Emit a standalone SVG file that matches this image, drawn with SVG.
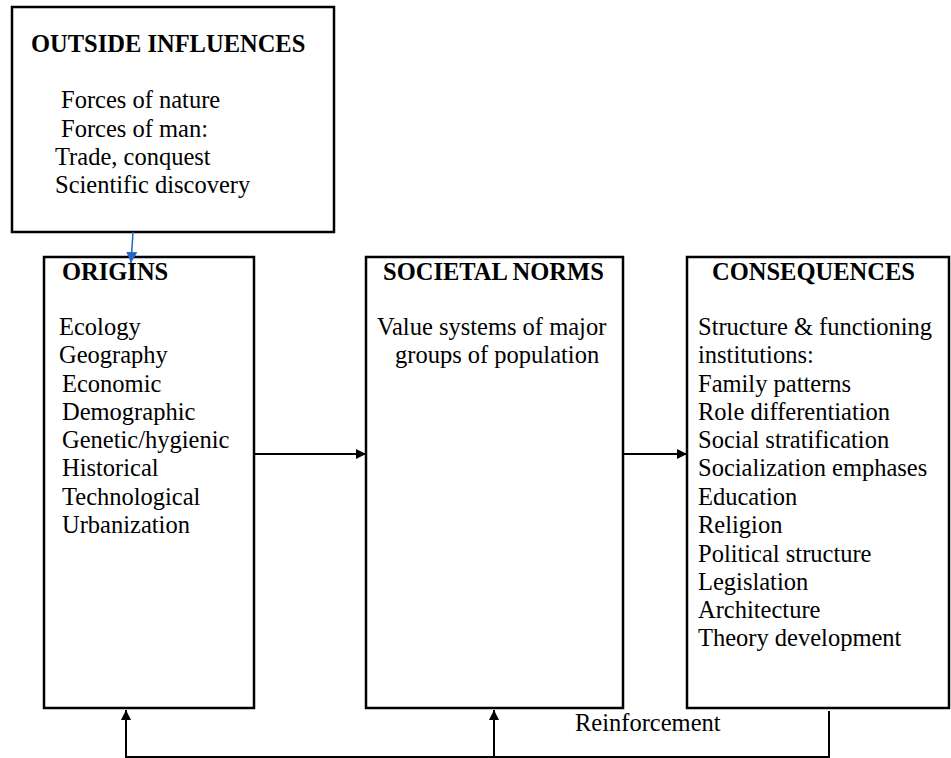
<svg xmlns="http://www.w3.org/2000/svg" width="951" height="758" viewBox="0 0 951 758">
<defs>
<style>
.box{fill:#fff;stroke:#000;stroke-width:2.5}
.t{font-family:"Liberation Serif","Times New Roman",serif;font-size:24.5px;fill:#000}
.b{font-weight:bold}
.ln{stroke:#000;stroke-width:2;fill:none}
</style>
<marker id="ah" viewBox="0 0 10 10" refX="10" refY="5" markerWidth="10" markerHeight="10" markerUnits="userSpaceOnUse" orient="auto"><path d="M0,0 L10,5 L0,10 Z" fill="#000"/></marker>
<marker id="ahb" viewBox="0 0 10 10" refX="10" refY="5" markerWidth="11" markerHeight="11" markerUnits="userSpaceOnUse" orient="auto"><path d="M0,0 L10,5 L0,10 Z" fill="#2566c4"/></marker>
</defs>
<rect width="951" height="758" fill="#fff"/>
<g id="outside">
<rect class="box" x="12" y="7" width="322" height="225"/>
<text class="t b" x="31" y="52">OUTSIDE INFLUENCES</text>
<text class="t" x="61" y="108">Forces of nature</text>
<text class="t" x="61" y="137">Forces of man:</text>
<text class="t" x="55" y="165">Trade, conquest</text>
<text class="t" x="55" y="193">Scientific discovery</text>
</g>
<g id="origins">
<rect class="box" x="44" y="257" width="210" height="451"/>
<text class="t b" x="62" y="280">ORIGINS</text>
<text class="t" x="59" y="335">Ecology</text>
<text class="t" x="59" y="363">Geography</text>
<text class="t" x="62" y="392">Economic</text>
<text class="t" x="62" y="420">Demographic</text>
<text class="t" x="62" y="448">Genetic/hygienic</text>
<text class="t" x="62" y="476">Historical</text>
<text class="t" x="62" y="505">Technological</text>
<text class="t" x="62" y="533">Urbanization</text>
</g>
<g id="norms">
<rect class="box" x="366" y="257" width="257" height="451"/>
<text class="t b" x="383" y="280">SOCIETAL NORMS</text>
<text class="t" x="377" y="335">Value systems of major</text>
<text class="t" x="395" y="363">groups of population</text>
</g>
<g id="consequences">
<rect class="box" x="687" y="257" width="262" height="451"/>
<text class="t b" x="712" y="280">CONSEQUENCES</text>
<text class="t" x="698" y="335">Structure &amp; functioning</text>
<text class="t" x="698" y="363">institutions:</text>
<text class="t" x="698" y="392">Family patterns</text>
<text class="t" x="698" y="420">Role differentiation</text>
<text class="t" x="698" y="448">Social stratification</text>
<text class="t" x="698" y="476">Socialization emphases</text>
<text class="t" x="698" y="505">Education</text>
<text class="t" x="698" y="533">Religion</text>
<text class="t" x="698" y="562">Political structure</text>
<text class="t" x="698" y="590">Legislation</text>
<text class="t" x="698" y="618">Architecture</text>
<text class="t" x="698" y="646">Theory development</text>
</g>
<g id="connectors">
<line x1="133" y1="232" x2="131" y2="263" stroke="#2566c4" stroke-width="1.5" marker-end="url(#ahb)"/>
<line class="ln" x1="254" y1="454" x2="366" y2="454" marker-end="url(#ah)"/>
<line class="ln" x1="623" y1="454" x2="687" y2="454" marker-end="url(#ah)"/>
<polyline class="ln" points="829,711 829,757 126,757 126,710" marker-end="url(#ah)"/>
<line class="ln" x1="494" y1="757" x2="494" y2="710" marker-end="url(#ah)"/>
<text class="t" x="575" y="731">Reinforcement</text>
</g>
</svg>
